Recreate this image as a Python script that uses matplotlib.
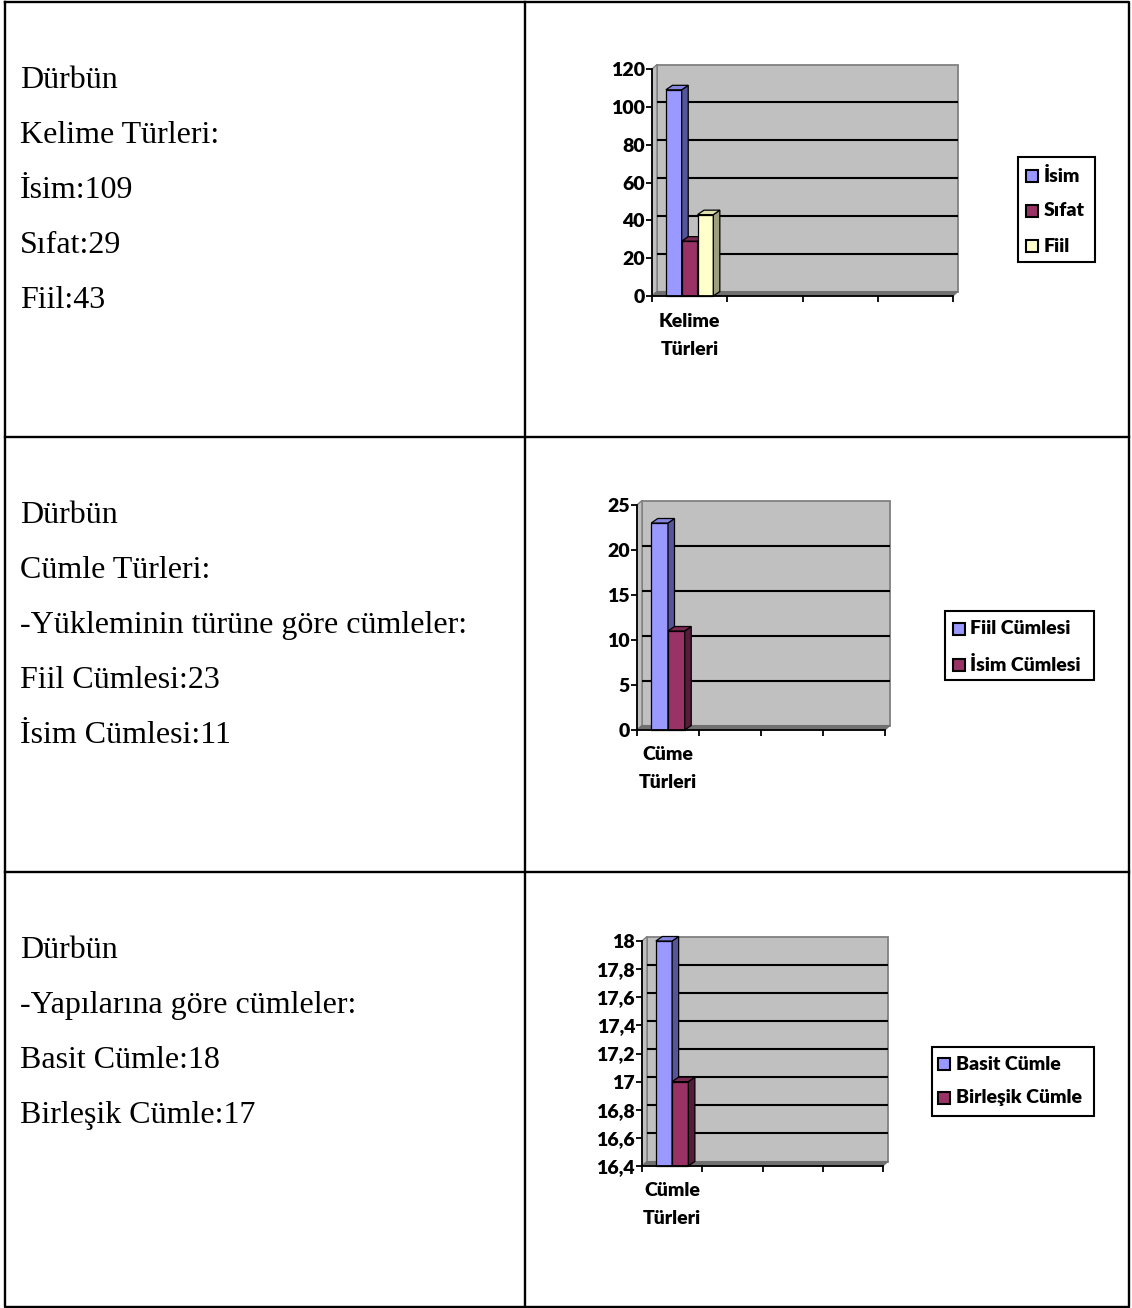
import numpy as np
import matplotlib.pyplot as plt
from matplotlib.patches import Rectangle, Polygon

W, H = 1132, 1308
DPI = 100

# text column of the table
rows_text = [
    ['Dürbün', 'Kelime Türleri:', 'İsim:109', 'Sıfat:29', 'Fiil:43'],
    ['Dürbün', 'Cümle Türleri:', '-Yükleminin türüne göre cümleler:',
     'Fiil Cümlesi:23', 'İsim Cümlesi:11'],
    ['Dürbün', '-Yapılarına göre cümleler:', 'Basit Cümle:18', 'Birleşik Cümle:17'],
]
rows_baseline = [88, 523, 958]
line_step = 55

# chart data
kelime_names = ['İsim', 'Sıfat', 'Fiil']
kelime_values = [109, 29, 43]
kelime_cat = ['Kelime', 'Türleri']

cumle_names = ['Fiil Cümlesi', 'İsim Cümlesi']
cumle_values = [23, 11]
cumle_cat = ['Cüme', 'Türleri']

yapi_names = ['Basit Cümle', 'Birleşik Cümle']
yapi_values = [18, 17]
yapi_cat = ['Cümle', 'Türleri']

# front / side / top colours for the 3d-look bars
bar_colors = [
    ('#9999FF', '#55559C', '#8585E0'),
    ('#993366', '#561C3A', '#7A2952'),
    ('#FFFFCC', '#9E9E80', '#E0E0B0'),
]
WALL = '#C0C0C0'
WALL_EDGE = '#808080'
WALL_DEPTH = (5, 4.5)   # px
BAR_DEPTH = (6.5, 4.5)  # px
CHART_FONT = 'Lato'
CHART_WEIGHT = 'heavy'
CHART_FS = 14

fig = plt.figure(figsize=(W / DPI, H / DPI), dpi=DPI)
base = fig.add_axes([0, 0, 1, 1], zorder=0)
base.set_xlim(0, W)
base.set_ylim(H, 0)
base.axis('off')

# table grid
lw_tab = 1.7
base.plot([5, 1129, 1129, 5, 5], [2, 2, 1307, 1307, 2], color='black', lw=lw_tab)
base.plot([525, 525], [2, 1307], color='black', lw=lw_tab)
for yy in [437, 872]:
    base.plot([5, 1129], [yy, yy], color='black', lw=lw_tab)

for lines, y0 in zip(rows_text, rows_baseline):
    for k, s in enumerate(lines):
        base.text(20, y0 + k * line_step, s, fontsize=23, family='Liberation Serif',
                  va='baseline', ha='left', color='black')


def fmt_tick(v):
    v = round(v, 1)
    if abs(v - round(v)) < 1e-9:
        return str(int(round(v)))
    return ('%.1f' % v).replace('.', ',')


def bar_chart(box, values, ymin, ymax, ystep, cat_lines, bar_w):
    x0, x1, yt, yb = box
    ax = fig.add_axes([x0 / W, 1 - yb / H, (x1 - x0) / W, (yb - yt) / H])
    ax.set_xlim(0, 4)
    ax.set_ylim(ymin, ymax)
    ax.patch.set_visible(False)
    sx = 4 / (x1 - x0)
    sy = (ymax - ymin) / (yb - yt)
    wdx, wdy = WALL_DEPTH[0] * sx, WALL_DEPTH[1] * sy
    bdx, bdy = BAR_DEPTH[0] * sx, BAR_DEPTH[1] * sy

    # walls and floor
    ax.add_patch(Rectangle((wdx, ymin + wdy), 4, ymax - ymin, facecolor=WALL,
                           edgecolor=WALL_EDGE, lw=1.3, zorder=0.5, clip_on=False))
    ax.add_patch(Polygon([(0, ymin), (0, ymax), (wdx, ymax + wdy), (wdx, ymin + wdy)],
                         facecolor=WALL, edgecolor=WALL_EDGE, lw=1.0, zorder=0.55,
                         clip_on=False))
    ax.add_patch(Polygon([(0, ymin), (4, ymin), (4 + wdx, ymin + wdy), (wdx, ymin + wdy)],
                         facecolor='#707070', edgecolor='#707070', lw=0.8, zorder=0.6,
                         clip_on=False))

    ticks = np.arange(ymin, ymax + ystep / 2, ystep)
    for t in ticks[1:-1]:
        ax.plot([wdx, 4 + wdx], [t + wdy, t + wdy], color='black', lw=1.5,
                zorder=0.7, clip_on=False, solid_capstyle='butt')

    n = len(values)
    lefts = 0.5 - n * bar_w / 2 + np.arange(n) * bar_w
    for i, (a, v) in enumerate(zip(lefts, values)):
        front, side, top = bar_colors[i]
        b = a + bar_w
        z = 1 + i
        ax.bar(a, v - ymin, width=bar_w, bottom=ymin, align='edge', color=front,
               edgecolor='black', lw=0.9, zorder=z, clip_on=False)
        ax.add_patch(Polygon([(b, ymin), (b, v), (b + bdx, v + bdy), (b + bdx, ymin + bdy)],
                             facecolor=side, edgecolor='black', lw=0.9, zorder=z,
                             clip_on=False))
        ax.add_patch(Polygon([(a, v), (b, v), (b + bdx, v + bdy), (a + bdx, v + bdy)],
                             facecolor=top, edgecolor='black', lw=0.9, zorder=z,
                             clip_on=False))

    for sp in ['top', 'right']:
        ax.spines[sp].set_visible(False)
    for sp in ['left', 'bottom']:
        ax.spines[sp].set_linewidth(1.3)
        ax.spines[sp].set_zorder(5)
    ax.set_yticks(ticks)
    ax.set_yticklabels([fmt_tick(t) for t in ticks], fontsize=CHART_FS,
                       fontweight=CHART_WEIGHT, family=CHART_FONT)
    ax.set_xticks([0, 1, 2, 3, 4])
    ax.set_xticklabels([])
    ax.tick_params(axis='y', direction='out', length=4, width=1.3, pad=1)
    ax.tick_params(axis='x', direction='out', length=4, width=1.3)

    for k, s in enumerate(cat_lines):
        ax.annotate(s, (0.5, ymin), xytext=(0, -25 - 28 * k), textcoords='offset pixels',
                    ha='center', va='center', fontsize=CHART_FS, fontweight=CHART_WEIGHT,
                    family=CHART_FONT)
    return ax


def legend(box, names, marker_x, text_x, ys):
    x0, x1, yt, yb = box
    base.add_patch(Rectangle((x0, yt), x1 - x0, yb - yt, facecolor='white',
                             edgecolor='black', lw=1.5))
    for i, (name, yy) in enumerate(zip(names, ys)):
        base.add_patch(Rectangle((marker_x, yy - 6), 12, 12, facecolor=bar_colors[i][0],
                                 edgecolor='black', lw=1.5))
        base.text(text_x, yy, name, fontsize=CHART_FS, fontweight=CHART_WEIGHT,
                  family=CHART_FONT, va='center', ha='left')


bar_chart((652, 953, 69, 296), kelime_values, 0, 120, 20, kelime_cat, 0.21)
legend((1018, 1095, 157, 262), kelime_names, 1026, 1044, [176, 211, 246])

bar_chart((637, 885, 505, 730), cumle_values, 0, 25, 5, cumle_cat, 0.27)
legend((945, 1094, 611, 680), cumle_names, 953, 970, [629, 665])

bar_chart((642, 883, 941, 1166), yapi_values, 16.4, 18, 0.2, yapi_cat, 0.27)
legend((932, 1094, 1047, 1116), yapi_names, 938, 956, [1064, 1098])

fig.savefig('out.png', dpi=DPI, facecolor='white')
